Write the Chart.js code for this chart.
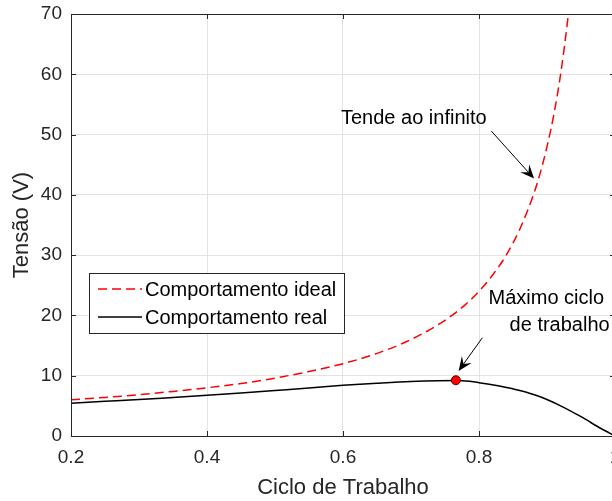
<!DOCTYPE html>
<html>
<head>
<meta charset="utf-8">
<script src="https://cdn.jsdelivr.net/npm/chart.js@4.4.1/dist/chart.umd.min.js"></script>
<style>
  html, body { margin: 0; padding: 0; background: #fff; overflow: hidden; }
</style>
</head>
<body>
<canvas id="myChart" width="630" height="501"></canvas>
<script>
// values
const idealDuty = [0.20, 0.25, 0.30, 0.35, 0.40, 0.45, 0.50, 0.55, 0.60, 0.65, 0.70, 0.75, 0.78, 0.80, 0.82, 0.84, 0.86, 0.88, 0.89, 0.90, 0.91, 0.92, 0.93, 0.935];
const idealVolts = [6.0, 6.4, 6.85, 7.4, 8.0, 8.7, 9.6, 10.7, 12.0, 13.7, 16.0, 19.2, 21.8, 24.0, 26.7, 30.0, 34.3, 40.0, 43.6, 48.0, 53.3, 60.0, 68.6, 73.8];

const realDuty = [0.20, 0.25, 0.30, 0.35, 0.40, 0.45, 0.50, 0.55, 0.60, 0.65, 0.70, 0.74, 0.77, 0.80, 0.83, 0.86, 0.89, 0.92, 0.95, 0.98, 1.00];
const realVolts = [5.45, 5.75, 6.05, 6.4, 6.75, 7.15, 7.55, 7.95, 8.4, 8.75, 9.05, 9.18, 9.2, 8.85, 8.3, 7.55, 6.5, 5.0, 3.2, 1.2, 0.0];

const maxDuty = [0.766];
const maxVolts = [9.25];

const xTicks = [0.2, 0.4, 0.6, 0.8, 1.0];
const yTicks = [0, 10, 20, 30, 40, 50, 60, 70];

const FONT = "'Liberation Sans', Arial, Helvetica, sans-serif";
const AXIS_COLOR = '#262626';

function toPoints(xs, ys) {
    return xs.map((x, i) => ({ x: x, y: ys[i] }));
}

function drawArrow(ctx, x1, y1, x2, y2) {
    const ang = Math.atan2(y2 - y1, x2 - x1);
    const c = Math.cos(ang), s = Math.sin(ang);
    const len = 14, half = 6;
    ctx.beginPath();
    ctx.moveTo(x1, y1);
    ctx.lineTo(x2 - c * len * 0.6, y2 - s * len * 0.6);
    ctx.stroke();
    ctx.beginPath();
    ctx.moveTo(x2, y2);
    ctx.lineTo(x2 - len * c + half * s, y2 - len * s - half * c);
    ctx.lineTo(x2 - 0.6 * len * c, y2 - 0.6 * len * s);
    ctx.lineTo(x2 - len * c - half * s, y2 - len * s + half * c);
    ctx.closePath();
    ctx.fill();
}

// box, inward ticks, legend and text arrows
const extras = {
    id: 'extras',
    afterDraw(chart) {
        const ctx = chart.ctx;
        const a = chart.chartArea;
        const xs = chart.scales.x, ys = chart.scales.y;
        ctx.save();
        ctx.strokeStyle = AXIS_COLOR;
        ctx.lineWidth = 1;
        ctx.strokeRect(a.left + 0.5, a.top + 0.5, a.right - a.left, a.bottom - a.top);
        ctx.beginPath();
        xTicks.forEach(v => {
            const px = Math.round(xs.getPixelForValue(v)) + 0.5;
            ctx.moveTo(px, a.bottom); ctx.lineTo(px, a.bottom - 5);
            ctx.moveTo(px, a.top); ctx.lineTo(px, a.top + 5);
        });
        yTicks.forEach(v => {
            const py = Math.round(ys.getPixelForValue(v)) + 0.5;
            ctx.moveTo(a.left, py); ctx.lineTo(a.left + 5, py);
            ctx.moveTo(a.right, py); ctx.lineTo(a.right - 5, py);
        });
        ctx.stroke();

        // legend
        ctx.fillStyle = '#fff';
        ctx.fillRect(89.5, 273.5, 255, 60);
        ctx.strokeRect(89.5, 273.5, 255, 60);
        ctx.lineWidth = 1.5;
        ctx.strokeStyle = '#ff0000';
        ctx.setLineDash([9, 5]);
        ctx.beginPath(); ctx.moveTo(98, 289); ctx.lineTo(142, 289); ctx.stroke();
        ctx.setLineDash([]);
        ctx.strokeStyle = '#000';
        ctx.beginPath(); ctx.moveTo(98, 317); ctx.lineTo(142, 317); ctx.stroke();
        ctx.fillStyle = '#000';
        ctx.font = '20px ' + FONT;
        ctx.textBaseline = 'middle';
        ctx.textAlign = 'left';
        ctx.fillText('Comportamento ideal', 145, 290);
        ctx.fillText('Comportamento real', 145, 318);

        // annotations
        ctx.fillText('Tende ao infinito', xs.getPixelForValue(0.597), ys.getPixelForValue(52.6));
        ctx.fillText('Máximo ciclo', xs.getPixelForValue(0.814), ys.getPixelForValue(22.8));
        ctx.fillText('de trabalho', xs.getPixelForValue(0.845), ys.getPixelForValue(18.4));
        ctx.lineWidth = 1;
        ctx.strokeStyle = '#000';
        drawArrow(ctx, xs.getPixelForValue(0.818), ys.getPixelForValue(50.6),
            xs.getPixelForValue(0.881), ys.getPixelForValue(42.7));
        drawArrow(ctx, xs.getPixelForValue(0.805), ys.getPixelForValue(16.3),
            xs.getPixelForValue(0.770), ys.getPixelForValue(10.8));
        ctx.restore();
    }
};

const ctx = document.getElementById('myChart').getContext('2d');
const myChart = new Chart(ctx, {
    type: 'line',
    data: {
        datasets: [{
            type: 'scatter',
            label: 'Máximo',
            data: toPoints(maxDuty, maxVolts),
            pointRadius: 4.5,
            pointBackgroundColor: '#ff0000',
            pointBorderColor: '#5a0000',
            pointBorderWidth: 1,
            order: 0
        }, {
            label: 'Comportamento ideal',
            data: toPoints(idealDuty, idealVolts),
            borderColor: '#ff0000',
            borderWidth: 1.5,
            borderDash: [9, 5],
            pointRadius: 0,
            cubicInterpolationMode: 'monotone',
            fill: false,
            order: 1
        }, {
            label: 'Comportamento real',
            data: toPoints(realDuty, realVolts),
            borderColor: '#000000',
            borderWidth: 1.5,
            pointRadius: 0,
            cubicInterpolationMode: 'monotone',
            fill: false,
            order: 2
        }]
    },
    options: {
        responsive: false,
        animation: false,
        layout: { padding: { top: 14, right: 15, bottom: 0, left: 0 } },
        plugins: {
            legend: { display: false },
            tooltip: { enabled: false }
        },
        scales: {
            x: {
                type: 'linear',
                min: 0.2,
                max: 1.0,
                afterFit: function (axis) {
                    axis.height = 65;
                    axis.paddingLeft = 0;
                    axis.paddingRight = 0;
                },
                afterBuildTicks: function (axis) { axis.ticks = xTicks.map(v => ({ value: v })); },
                grid: { color: '#e3e3e3', drawTicks: false },
                border: { display: false },
                ticks: {
                    padding: 10,
                    color: AXIS_COLOR,
                    autoSkip: false,
                    maxRotation: 0,
                    font: { size: 19, family: FONT },
                    callback: v => String(Number(v.toFixed(1)))
                },
                title: {
                    display: true,
                    text: 'Ciclo de Trabalho',
                    color: AXIS_COLOR,
                    font: { size: 22, family: FONT },
                    padding: { top: 0, bottom: 0 }
                }
            },
            y: {
                min: 0,
                max: 70,
                afterFit: function (axis) {
                    axis.width = 71;
                    axis.paddingTop = 0;
                    axis.paddingBottom = 0;
                },
                afterBuildTicks: function (axis) { axis.ticks = yTicks.map(v => ({ value: v })); },
                grid: { color: '#e3e3e3', drawTicks: false },
                border: { display: false },
                ticks: {
                    padding: 9,
                    color: AXIS_COLOR,
                    font: { size: 19, family: FONT }
                },
                title: {
                    display: true,
                    text: 'Tensão (V)',
                    color: AXIS_COLOR,
                    font: { size: 22, family: FONT },
                    padding: { top: 9, bottom: 0 }
                }
            }
        }
    },
    plugins: [extras]
});
</script>
</body>
</html>
